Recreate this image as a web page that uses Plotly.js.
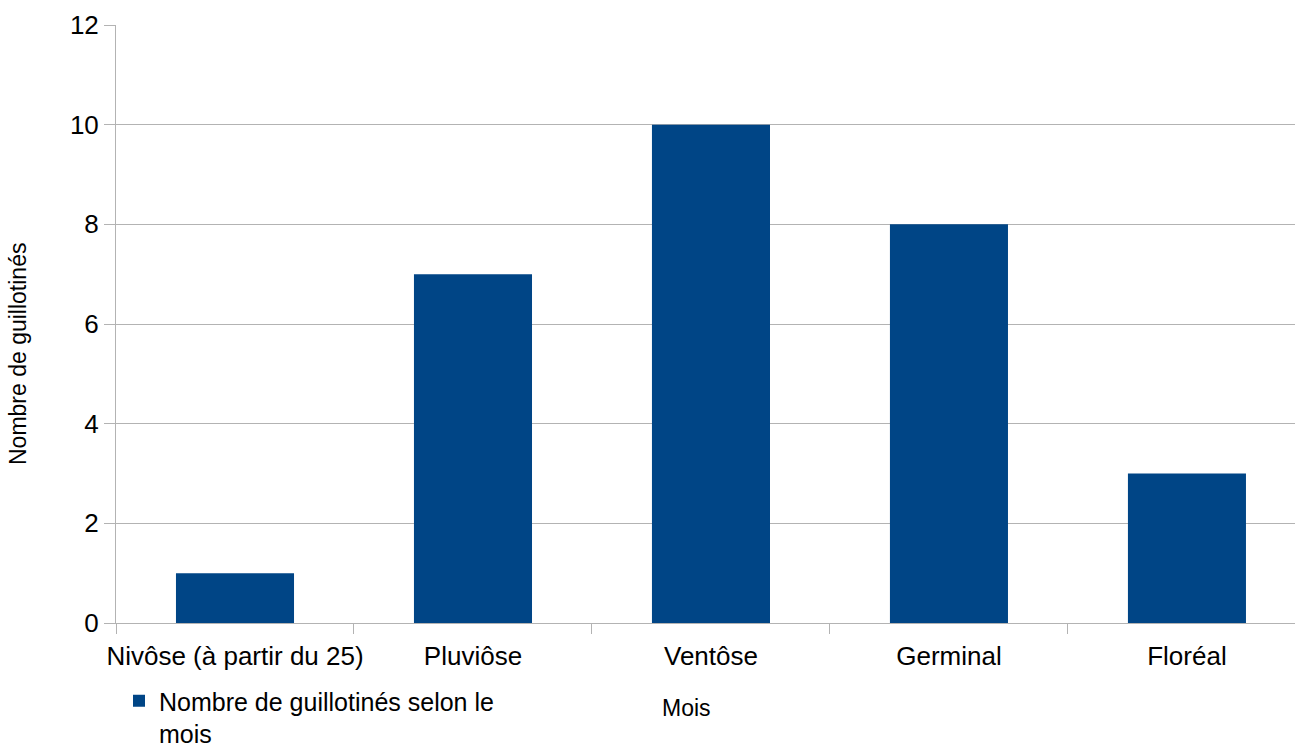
<!DOCTYPE html>
<html>
<head>
<meta charset="utf-8">
<script src="https://cdn.plot.ly/plotly-3.0.1.min.js"></script>
<style>html,body{margin:0;padding:0;overflow:hidden;background:#fff;}</style>
</head>
<body>
<div id="chart" style="width:1295px;height:746px;"></div>
<script>
const categories = ["Nivôse (à partir du 25)", "Pluviôse", "Ventôse", "Germinal", "Floréal"];
const values = [1, 7, 10, 8, 3];
const seriesName = "Nombre de guillotinés selon le<br>mois";
const xTitle = "Mois";
const yTitle = "Nombre de guillotinés";
const yTicks = [0, 2, 4, 6, 8, 10, 12];

const font = "Liberation Sans, Arial, sans-serif";

const data = [{
  type: "bar",
  x: categories,
  y: values,
  name: seriesName,
  marker: {color: "#004586"},
  showlegend: true
}];

const layout = {
  width: 1295,
  height: 746,
  margin: {l: 116, r: 0, t: 25, b: 123, pad: 0},
  paper_bgcolor: "#fff",
  plot_bgcolor: "#fff",
  font: {family: font, color: "#000", size: 26},
  bargap: 0.504,
  xaxis: {
    type: "category",
    range: [-0.5, 4.454],
    tickson: "boundaries",
    ticks: "outside",
    ticklen: 10,
    tickcolor: "#b3b3b3",
    tickangle: 0,
    ticklabelstandoff: 10,
    showline: true,
    linecolor: "#b3b3b3",
    showgrid: false,
    tickfont: {size: 26, family: font, color: "#000"},
    automargin: false
  },
  yaxis: {
    range: [0, 12],
    tickvals: yTicks,
    ticks: "outside",
    ticklen: 11,
    tickcolor: "#b3b3b3",
    showline: true,
    linecolor: "#b3b3b3",
    showgrid: true,
    gridcolor: "#b3b3b3",
    zeroline: false,
    tickfont: {size: 26, family: font, color: "#000"},
    automargin: false
  },
  legend: {
    orientation: "h",
    x: 3/1179,
    xanchor: "left",
    y: 1 - 678/746,
    yref: "container",
    yanchor: "top",
    valign: "top",
    font: {size: 25, family: font, color: "#000"},
    bgcolor: "rgba(0,0,0,0)",
    borderwidth: 0
  },
  annotations: [
    {text: xTitle, xref: "paper", yref: "paper", x: (686-116)/1179, y: -(708-623)/598,
     xanchor: "center", yanchor: "middle", showarrow: false,
     font: {size: 23, family: font, color: "#000"}},
    {text: yTitle, xref: "paper", yref: "paper", x: -(116-18)/1179, y: (623-354)/598,
     xanchor: "center", yanchor: "middle", showarrow: false, textangle: -90,
     font: {size: 23, family: font, color: "#000"}}
  ]
};

Plotly.newPlot("chart", data, layout, {displayModeBar: false, staticPlot: true});
</script>
</body>
</html>
